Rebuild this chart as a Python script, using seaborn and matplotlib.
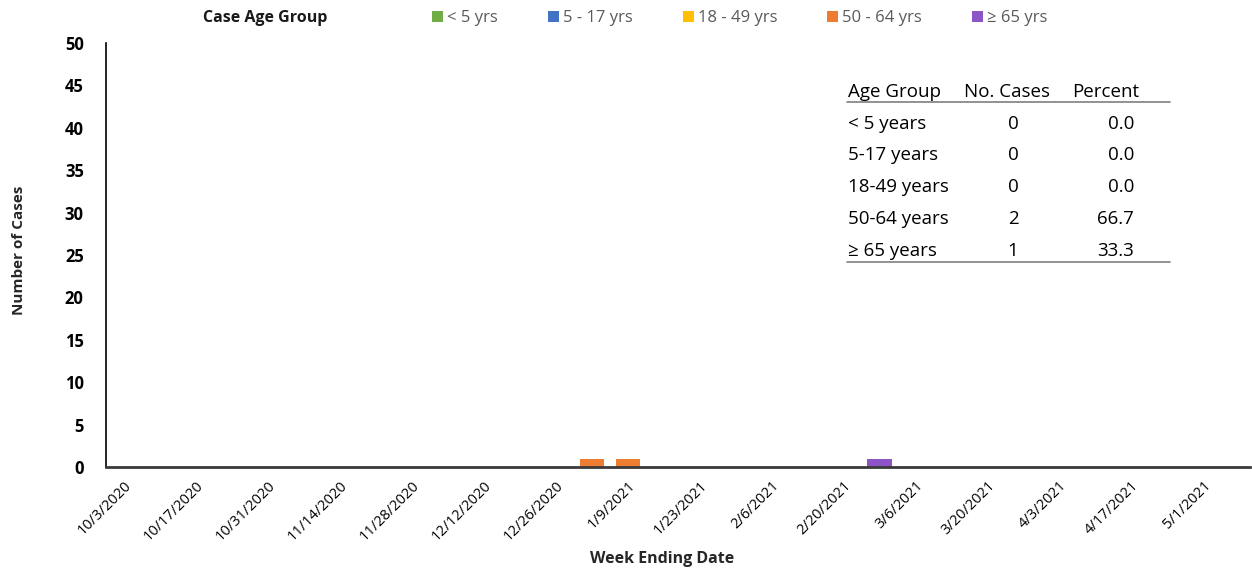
import matplotlib
matplotlib.use("Agg")
import matplotlib.pyplot as plt
from matplotlib.patches import Patch
from matplotlib.lines import Line2D
import seaborn as sns
import pandas as pd

# ---------------- data ----------------
weeks = ["10/3/2020", "10/10/2020", "10/17/2020", "10/24/2020", "10/31/2020", "11/7/2020",
         "11/14/2020", "11/21/2020", "11/28/2020", "12/5/2020", "12/12/2020", "12/19/2020",
         "12/26/2020", "1/2/2021", "1/9/2021", "1/16/2021", "1/23/2021", "1/30/2021",
         "2/6/2021", "2/13/2021", "2/20/2021", "2/27/2021", "3/6/2021", "3/13/2021",
         "3/20/2021", "3/27/2021", "4/3/2021", "4/10/2021", "4/17/2021", "4/24/2021",
         "5/1/2021", "5/8/2021"]
groups = ["< 5 yrs", "5 - 17 yrs", "18 - 49 yrs", "50 - 64 yrs", "≥ 65 yrs"]
under5   = [0] * 32
age5_17  = [0] * 32
age18_49 = [0] * 32
age50_64 = [0, 0, 0, 0, 0, 0, 0, 0, 0, 0, 0, 0, 0, 1, 1, 0, 0, 0, 0, 0, 0, 0, 0, 0, 0, 0, 0, 0, 0, 0, 0, 0]
age65    = [0, 0, 0, 0, 0, 0, 0, 0, 0, 0, 0, 0, 0, 0, 0, 0, 0, 0, 0, 0, 0, 1, 0, 0, 0, 0, 0, 0, 0, 0, 0, 0]
colors = ["#70AD47", "#4472C4", "#FFC000", "#ED7D31", "#8B55C6"]

table_groups = ["< 5 years", "5-17 years", "18-49 years", "50-64 years", "≥ 65 years"]
table_cases = [0, 0, 0, 2, 1]
table_pct = ["0.0", "0.0", "0.0", "66.7", "33.3"]

# ---------------- frame ----------------
rows = []
for g, vals in zip(groups, [under5, age5_17, age18_49, age50_64, age65]):
    for i, v in enumerate(vals):
        rows.append({"week": i, "group": g, "cases": v})
df = pd.DataFrame(rows)

sns.set_theme(style="white")
plt.rcParams["font.family"] = ["Open Sans", "DejaVu Sans"]

W, H = 1252, 571
fig = plt.figure(figsize=(W / 100, H / 100), dpi=100)
ax = fig.add_axes([106 / W, 1 - 467 / H, 1144 / W, 424 / H])

sns.histplot(data=df, x="week", hue="group", weights="cases", multiple="stack",
             discrete=True, shrink=0.67, hue_order=groups, palette=colors,
             linewidth=0, alpha=1, legend=False, ax=ax)

ax.set_xlim(-0.5, 31.3)
ax.set_ylim(0, 50)
ax.set_yticks(range(0, 51, 5))
ax.set_yticklabels([str(v) for v in range(0, 51, 5)], fontsize=12, fontweight="bold", color="#000000")
ax.set_xticks(range(0, len(weeks), 2))
ax.set_xticklabels(weeks[::2], rotation=45, ha="right", rotation_mode="anchor",
                   fontsize=10.5, color="#000000")
ax.tick_params(axis="y", length=0, pad=16)
ax.tick_params(axis="x", length=0, pad=8)
ax.set_xlabel("Week Ending Date", fontsize=11.5, fontweight="bold")
ax.set_ylabel("Number of Cases", fontsize=11, fontweight="bold")
ax.xaxis.set_label_coords((662 - 106) / 1144, (467 - 551) / 424)
ax.yaxis.set_label_coords((26 - 106) / 1144, (467 - 250) / 424)

for s in ["top", "right"]:
    ax.spines[s].set_visible(False)
ax.spines["left"].set_color("#000000")
ax.spines["left"].set_linewidth(1.2)
ax.spines["bottom"].set_color("#3a3a3a")
ax.spines["bottom"].set_linewidth(2)
ax.grid(False)

# ---------------- legend ----------------
fig.text(265 / W, 1 - 18 / H, "Case Age Group", ha="center", va="center",
         fontsize=11.5, fontweight="bold", color="#1a1a1a")
handles = [Patch(facecolor=c, edgecolor="none") for c in colors]
leg = fig.legend(handles, groups, ncol=5, loc="center", bbox_to_anchor=(740 / W, 1 - 18 / H),
                 frameon=False, fontsize=12, handlelength=0.65, handleheight=0.65,
                 handletextpad=0.25, columnspacing=3.0, labelcolor="#595959")

# ---------------- table ----------------
def fy(y):
    return 1 - y / H

fs = 13.5
fig.text(848 / W, fy(92), "Age Group", ha="left", va="center", fontsize=fs, color="#000000")
fig.text(1007 / W, fy(92), "No. Cases", ha="center", va="center", fontsize=fs, color="#000000")
fig.text(1106 / W, fy(92), "Percent", ha="center", va="center", fontsize=fs, color="#000000")
row_y = [124, 155, 187, 219, 251]
for yy, g, c, p in zip(row_y, table_groups, table_cases, table_pct):
    fig.text(848 / W, fy(yy), g, ha="left", va="center", fontsize=fs, color="#000000")
    fig.text(1013 / W, fy(yy), str(c), ha="center", va="center", fontsize=fs, color="#000000")
    fig.text(1134 / W, fy(yy), p, ha="right", va="center", fontsize=fs, color="#000000")
for yy in [102, 262]:
    fig.add_artist(Line2D([847 / W, 1170 / W], [fy(yy), fy(yy)], color="#7f7f7f", lw=1.2))

fig.savefig("out.png", dpi=100, facecolor="white")
